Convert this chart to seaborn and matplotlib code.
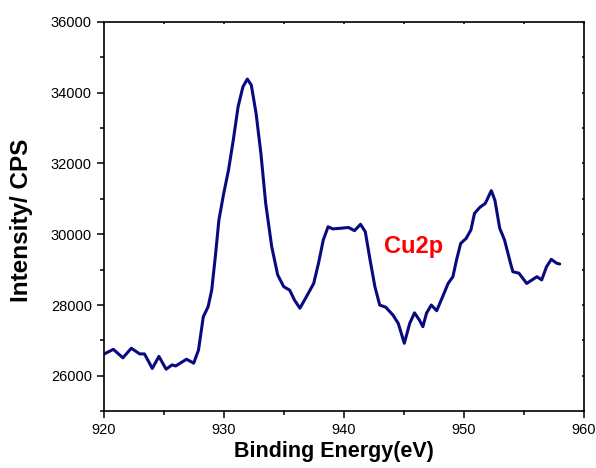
import matplotlib
matplotlib.use("Agg")
import matplotlib.pyplot as plt
import seaborn as sns
import pandas as pd
from matplotlib.ticker import MultipleLocator

# Cu 2p XPS spectrum
binding_energy = [
    920.0, 920.8, 921.6, 922.3, 923.0, 923.4, 924.05, 924.6, 925.2, 925.7,
    926.0, 926.9, 927.5, 927.9, 928.3, 928.7, 929.0, 929.3, 929.6, 930.0,
    930.4, 930.8, 931.2, 931.6, 931.97, 932.3, 932.7, 933.1, 933.5, 934.0,
    934.5, 935.0, 935.5, 935.9, 936.35, 936.9, 937.5, 937.9, 938.3, 938.7,
    939.1, 939.8, 940.4, 940.9, 941.4, 941.8, 942.2, 942.6, 943.0, 943.5,
    944.1, 944.55, 945.05, 945.5, 945.9, 946.3, 946.6, 946.9, 947.3, 947.75,
    948.25, 948.7, 949.1, 949.4, 949.75, 950.2, 950.6, 950.9, 951.35, 951.8,
    952.3, 952.6, 953.0, 953.4, 953.9, 954.1, 954.6, 955.25, 956.1, 956.5,
    956.9, 957.3, 957.75, 958.0,
]
intensity = [
    26610, 26750, 26510, 26780, 26620, 26620, 26210, 26550, 26190, 26310,
    26280, 26470, 26360, 26730, 27670, 27950, 28420, 29360, 30400, 31150,
    31810, 32660, 33600, 34160, 34380, 34210, 33410, 32280, 30870, 29650,
    28850, 28520, 28420, 28140, 27910, 28240, 28610, 29180, 29840, 30210,
    30150, 30170, 30190, 30100, 30280, 30070, 29270, 28520, 28000, 27940,
    27720, 27480, 26920, 27480, 27780, 27580, 27390, 27770, 28000, 27840,
    28240, 28610, 28800, 29270, 29740, 29880, 30120, 30590, 30760, 30870,
    31230, 30960, 30170, 29840, 29180, 28940, 28900, 28610, 28800, 28710,
    29080, 29290, 29180, 29160,
]
x_ticks = [920, 930, 940, 950, 960]
y_ticks = [26000, 28000, 30000, 32000, 34000, 36000]
peak_label = "Cu2p"

df = pd.DataFrame({"Binding Energy(eV)": binding_energy, "Intensity/ CPS": intensity})

sns.set_theme(style="white")
plt.rcParams["font.family"] = ["Liberation Sans", "DejaVu Sans"]
plt.rcParams["text.color"] = "black"
plt.rcParams["axes.labelcolor"] = "black"
plt.rcParams["xtick.color"] = "black"
plt.rcParams["ytick.color"] = "black"

fig = plt.figure(figsize=(5.96, 4.68), dpi=100)
ax = fig.add_axes([103.7 / 596, 1 - 411.3 / 468, (583.7 - 103.7) / 596, (411.3 - 21.7) / 468])

sns.lineplot(data=df, x="Binding Energy(eV)", y="Intensity/ CPS", ax=ax,
             color="#0a0a80", linewidth=2.2, sort=False)
ax.lines[0].set_solid_joinstyle("round")
ax.lines[0].set_solid_capstyle("round")

ax.set_xlim(920, 960)
ax.set_ylim(25000, 36000)
ax.set_xticks(x_ticks)
ax.set_yticks(y_ticks)
ax.xaxis.set_minor_locator(MultipleLocator(5))
ax.yaxis.set_minor_locator(MultipleLocator(1000))

for s in ax.spines.values():
    s.set_color("black")
    s.set_linewidth(1.2)

ax.tick_params(axis="both", which="both", bottom=True, left=True, top=True, right=True,
               colors="black", labelcolor="black", labelsize=10.5)
ax.tick_params(axis="both", which="major", direction="out", length=5, width=1.1)
ax.tick_params(axis="both", which="minor", direction="out", length=3, width=1.1)
ax.tick_params(axis="x", which="both", top=True, labeltop=False)
ax.tick_params(axis="y", which="both", right=True, labelright=False)
# short inward ticks on top and right
for t in ax.xaxis.get_major_ticks() + ax.xaxis.get_minor_ticks():
    t.tick2line.set_markersize(1.5)
    t.tick2line.set_marker(3)
for t in ax.yaxis.get_major_ticks() + ax.yaxis.get_minor_ticks():
    t.tick2line.set_markersize(1.5)
    t.tick2line.set_marker(0)

ax.set_xlabel("Binding Energy(eV)", fontsize=15.5, fontweight="bold", color="black")
ax.set_ylabel("Intensity/ CPS", fontsize=17.5, fontweight="bold", color="black")
ax.xaxis.set_label_coords(0.48, -0.075)
ax.yaxis.set_label_coords(-0.148, 0.49)

ax.text(945.8, 29660, peak_label, color="red", fontsize=17, fontweight="bold",
        ha="center", va="center")

fig.savefig("out.png", dpi=100)
